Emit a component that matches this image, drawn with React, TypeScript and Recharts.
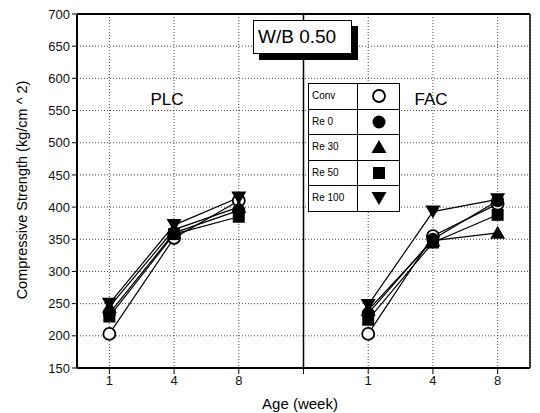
import React from 'react';
import { LineChart, Line, XAxis, YAxis, CartesianGrid, ReferenceLine } from 'recharts';

// Categories
const ages = ['1', '4', '8'];
const groups = ['PLC', 'FAC'];
const yTicks = [150, 200, 250, 300, 350, 400, 450, 500, 550, 600, 650, 700];

// Series values (kg/cm^2), PLC then FAC
const plcConv = [203, 352, 410];
const plcRe0 = [235, 360, 395];
const plcRe30 = [245, 365, 400];
const plcRe50 = [230, 358, 385];
const plcRe100 = [250, 372, 415];

const facConv = [203, 355, 405];
const facRe0 = [235, 350, 410];
const facRe30 = [240, 348, 360];
const facRe50 = [225, 345, 388];
const facRe100 = [248, 393, 412];

const seriesNames = ['Conv', 'Re 0', 'Re 30', 'Re 50', 'Re 100'];
const keys = ['conv', 're0', 're30', 're50', 're100'];
const plcSeries = [plcConv, plcRe0, plcRe30, plcRe50, plcRe100];
const facSeries = [facConv, facRe0, facRe30, facRe50, facRe100];

const data: any[] = [];
ages.forEach((a, i) => {
  const row: any = { x: i };
  keys.forEach((k, s) => (row[k] = plcSeries[s][i]));
  data.push(row);
});
data.push({ x: 3, conv: null, re0: null, re30: null, re50: null, re100: null });
ages.forEach((a, i) => {
  const row: any = { x: 4 + i };
  keys.forEach((k, s) => (row[k] = facSeries[s][i]));
  data.push(row);
});

const xTicks = [0, 1, 2, 3, 4, 5, 6];
const xLabel = (v: number) => (v === 3 ? '' : ages[v < 3 ? v : v - 4]);

const FONT = '"Liberation Sans", Arial, Helvetica, sans-serif';

type Shape = 'open' | 'circle' | 'up' | 'square' | 'down';
const shapes: Shape[] = ['open', 'circle', 'up', 'square', 'down'];

const Marker = ({ cx, cy, shape }: { cx: number; cy: number; shape: Shape }) => {
  if (cx == null || cy == null || isNaN(cx) || isNaN(cy)) return null;
  switch (shape) {
    case 'open':
      return <circle cx={cx} cy={cy} r={6} fill="#fff" stroke="#000" strokeWidth={1.8} />;
    case 'circle':
      return <circle cx={cx} cy={cy} r={6.5} fill="#000" />;
    case 'up':
      return <polygon points={`${cx},${cy - 7} ${cx - 7.5},${cy + 6} ${cx + 7.5},${cy + 6}`} fill="#000" />;
    case 'square':
      return <rect x={cx - 6} y={cy - 6} width={12} height={12} fill="#000" />;
    case 'down':
      return <polygon points={`${cx},${cy + 7} ${cx - 7.5},${cy - 6} ${cx + 7.5},${cy - 6}`} fill="#000" />;
  }
  return null;
};

const LegendIcon = ({ shape }: { shape: Shape }) => (
  <svg width={20} height={20}>
    <Marker cx={10} cy={10} shape={shape} />
  </svg>
);

export default function App() {
  return (
    <div style={{ position: 'absolute', left: 0, top: 0, width: 540, height: 413, background: '#fff', fontFamily: FONT }}>
      <LineChart width={540} height={413} data={data} margin={{ top: 14, right: 10, bottom: 0, left: 0 }}>
        <CartesianGrid stroke="#333" strokeDasharray="1 2" strokeWidth={0.9} />
        <XAxis
          dataKey="x"
          type="number"
          domain={[-0.5, 6.5]}
          ticks={xTicks}
          tickFormatter={xLabel}
          height={45}
          axisLine={{ stroke: '#000', strokeWidth: 2 }}
          tickLine={{ stroke: '#000' }}
          tickSize={6}
          tick={{ fontSize: 13, fill: '#111', fontFamily: FONT }}
          allowDataOverflow
        />
        <YAxis
          domain={[150, 700]}
          ticks={yTicks}
          width={77}
          axisLine={{ stroke: '#000', strokeWidth: 2 }}
          tickLine={{ stroke: '#000' }}
          tickSize={5}
          tick={{ fontSize: 13, fill: '#111', fontFamily: FONT }}
          allowDataOverflow
        />
        <ReferenceLine y={700} stroke="#000" strokeWidth={2} />
        <ReferenceLine x={6.5} stroke="#000" strokeWidth={1.5} />
        <ReferenceLine x={3} stroke="#000" strokeWidth={1.5} />
        {keys.map((k, s) => (
          <Line
            key={k}
            dataKey={k}
            stroke="#000"
            strokeWidth={1.2}
            connectNulls={false}
            isAnimationActive={false}
            dot={(p: any) => <Marker key={`${k}-${p.index}`} cx={p.cx} cy={p.cy} shape={shapes[s]} />}
            activeDot={false}
          />
        ))}
      </LineChart>

      {/* Panel labels */}
      <div style={{ position: 'absolute', left: 167, top: 100, transform: 'translate(-50%,-50%)', fontSize: 17 }}>{groups[0]}</div>
      <div style={{ position: 'absolute', left: 431, top: 100, transform: 'translate(-50%,-50%)', fontSize: 17 }}>{groups[1]}</div>

      {/* W/B box */}
      <div
        style={{
          position: 'absolute', left: 253, top: 20, width: 93, height: 32,
          border: '1.5px solid #000', background: '#fff', boxShadow: '6px 6px 0 #000',
          fontSize: 19, lineHeight: '32px', paddingLeft: 4, boxSizing: 'content-box',
        }}
      >
        W/B 0.50
      </div>

      {/* Legend table */}
      <div style={{ position: 'absolute', left: 308, top: 83, width: 90, background: '#fff', border: '1.5px solid #000' }}>
        {seriesNames.map((n, i) => (
          <div key={n} style={{ display: 'flex', height: 24.5, borderTop: i === 0 ? 'none' : '1.5px solid #000' }}>
            <div style={{ width: 49, borderRight: '1.5px solid #000', fontSize: 10, lineHeight: '24px', paddingLeft: 3, boxSizing: 'border-box' }}>{n}</div>
            <div style={{ flex: 1, display: 'flex', alignItems: 'center', justifyContent: 'center' }}>
              <LegendIcon shape={shapes[i]} />
            </div>
          </div>
        ))}
      </div>

      {/* Axis titles */}
      <div style={{ position: 'absolute', left: 300, top: 403, transform: 'translate(-50%,-50%)', fontSize: 15, whiteSpace: 'nowrap' }}>Age (week)</div>
      <div style={{ position: 'absolute', left: 22, top: 190, transform: 'translate(-50%,-50%) rotate(-90deg)', fontSize: 14.5, whiteSpace: 'nowrap' }}>
        Compressive Strength (kg/cm ^ 2)
      </div>
    </div>
  );
}
